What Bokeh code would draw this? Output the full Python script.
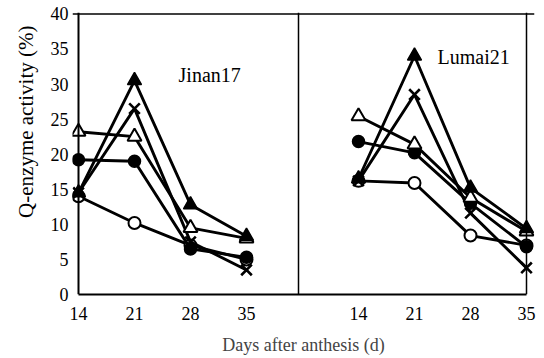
import math
from bokeh.plotting import figure
from bokeh.models import Range1d, FixedTicker, Span, Label, Title
from bokeh.embed import file_html
from bokeh.resources import INLINE

# ---- data ----
days = [14, 21, 28, 35]
x_ticks = [14, 21, 28, 35]
y_ticks = [0, 5, 10, 15, 20, 25, 30, 35, 40]
panel_names = ["Jinan17", "Lumai21"]

jinan_filled_tri = [14.5, 30.5, 12.8, 8.3]
jinan_open_tri = [23.2, 22.5, 9.5, 8.0]
jinan_filled_circ = [19.2, 19.0, 6.5, 5.3]
jinan_open_circ = [14.0, 10.2, 7.0, 5.0]
jinan_cross = [14.5, 26.5, 7.5, 3.5]

lumai_filled_tri = [16.5, 34.0, 15.2, 9.4]
lumai_open_tri = [25.4, 21.4, 13.8, 9.0]
lumai_filled_circ = [21.8, 20.2, 13.0, 6.8]
lumai_open_circ = [16.2, 15.9, 8.4, 7.0]
lumai_cross = [16.2, 28.5, 11.6, 3.8]

# ---- layout ----
PANEL_OFFSET = 35   # horizontal shift of the right panel on the shared axis
DIVIDER = 41.5
FONT = "Liberation Serif"

p = figure(width=544, height=358, output_backend="svg", toolbar_location=None,
           x_range=Range1d(13.25, 71.0), y_range=Range1d(0, 40.2),
           min_border_left=72, min_border_right=10, min_border_top=12, min_border_bottom=64,
           background_fill_color="white", border_fill_color="white")
p.outline_line_color = None
p.grid.visible = False

# x axis
ticks = x_ticks + [t + PANEL_OFFSET for t in x_ticks]
overrides = {t: str(t) for t in x_ticks}
overrides.update({t + PANEL_OFFSET: str(t) for t in x_ticks})
p.xaxis.ticker = FixedTicker(ticks=ticks)
p.xaxis.major_label_overrides = overrides
p.xaxis.bounds = (14, 35 + PANEL_OFFSET)
p.xaxis.axis_line_width = 2
p.xaxis.major_tick_in = 0
p.xaxis.major_tick_out = 0
p.xaxis.minor_tick_line_color = None
p.xaxis.major_label_standoff = 12
p.xaxis.major_label_text_font = FONT
p.xaxis.major_label_text_font_size = "18px"
p.xaxis.major_label_text_color = "black"
p.xaxis.axis_label = "Days after anthesis (d)"
p.xaxis.axis_label_text_font = FONT
p.xaxis.axis_label_text_font_style = "normal"
p.xaxis.axis_label_text_font_size = "18px"
p.xaxis.axis_label_standoff = 12

# y axis
p.yaxis.ticker = FixedTicker(ticks=y_ticks)
p.yaxis.axis_line_alpha = 0
p.yaxis.major_tick_in = 0
p.yaxis.major_tick_out = 0
p.yaxis.minor_tick_line_color = None
p.yaxis.major_label_standoff = 4
p.yaxis.major_label_text_font = FONT
p.yaxis.major_label_text_font_size = "18px"
p.yaxis.major_label_text_color = "black"

# y axis title, placed as a left-side title aligned toward the top
p.add_layout(Title(text="Q-enzyme activity (%)", align="right", offset=13, standoff=19,
                   text_font=FONT, text_font_size="21px", text_font_style="normal",
                   text_color="black"), "left")

# frame lines
p.add_layout(Span(location=14, dimension="height", line_color="black", line_width=2))
p.add_layout(Span(location=40, dimension="width", line_color="black", line_width=1.5))
p.add_layout(Span(location=DIVIDER, dimension="height", line_color="black", line_width=1.5))
p.add_layout(Span(location=35 + PANEL_OFFSET, dimension="height", line_color="black", line_width=1.5))

# series
def draw(xs, ys, kind):
    p.line(xs, ys, line_color="black", line_width=2.9)
    if kind == "ftri":
        p.scatter(xs, ys, marker="triangle", size=14, fill_color="black", line_color="black", line_width=1.5)
    elif kind == "otri":
        p.scatter(xs, ys, marker="triangle", size=14, fill_color="white", line_color="black", line_width=2)
    elif kind == "fcirc":
        p.scatter(xs, ys, marker="circle", size=12, fill_color="black", line_color="black", line_width=1.5)
    elif kind == "ocirc":
        p.scatter(xs, ys, marker="circle", size=12, fill_color="white", line_color="black", line_width=2)
    else:
        p.scatter(xs, ys, marker="x", size=15, line_color="black", line_width=2.6)

left_x = days
right_x = [d + PANEL_OFFSET for d in days]
for xs, series in ((left_x, [jinan_open_circ, jinan_cross, jinan_filled_circ, jinan_open_tri, jinan_filled_tri]),
                   (right_x, [lumai_open_circ, lumai_cross, lumai_filled_circ, lumai_open_tri, lumai_filled_tri])):
    for ys, kind in zip(series, ["ocirc", "x", "fcirc", "otri", "ftri"]):
        draw(xs, ys, kind)

# panel labels
p.add_layout(Label(x=30.4, y=31.3, text=panel_names[0], text_align="center", text_baseline="middle",
                   text_font=FONT, text_font_size="20px", text_color="black"))
p.add_layout(Label(x=28.4 + PANEL_OFFSET, y=33.9, text=panel_names[1], text_align="center",
                   text_baseline="middle", text_font=FONT, text_font_size="20px", text_color="black"))

open("out.html", "w").write(file_html(p, INLINE))
